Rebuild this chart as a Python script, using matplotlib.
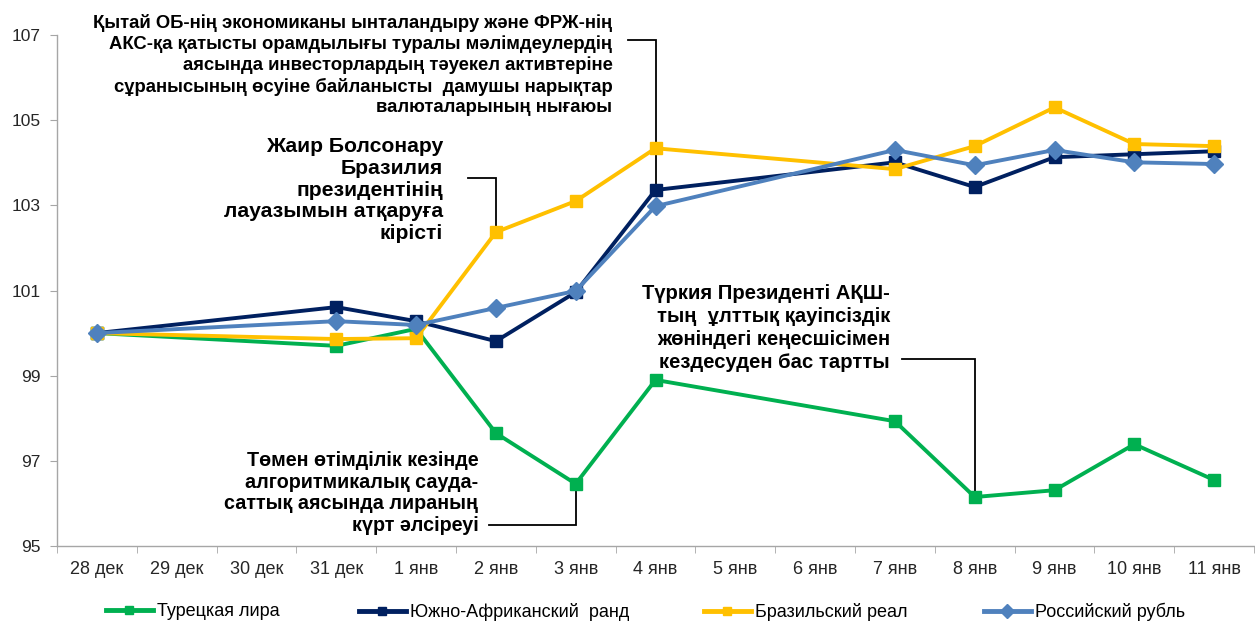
import numpy as np
import matplotlib.pyplot as plt
from matplotlib.lines import Line2D

# Даты (категории оси X)
dates = ["28 дек", "29 дек", "30 дек", "31 дек", "1 янв", "2 янв", "3 янв",
         "4 янв", "5 янв", "6 янв", "7 янв", "8 янв", "9 янв", "10 янв", "11 янв"]
# Индексы дат, для которых есть значения (выходные пропущены)
obs_idx = [0, 3, 4, 5, 6, 7, 10, 11, 12, 13, 14]

try_lira = [100.0, 99.70, 100.10, 97.65, 96.46, 98.90, 97.93, 96.15, 96.31, 97.39, 96.55]
zar_rand = [100.0, 100.61, 100.28, 99.81, 100.96, 103.36, 104.01, 103.43, 104.13, 104.20, 104.27]
brl_real = [100.0, 99.86, 99.88, 102.37, 103.10, 104.34, 103.85, 104.39, 105.30, 104.44, 104.39]
rub_rubl = [100.0, 100.28, 100.19, 100.59, 100.99, 102.98, 104.30, 103.94, 104.30, 104.01, 103.97]

yticks = [95, 97, 99, 101, 103, 105, 107]

C_TRY = "#00B050"
C_ZAR = "#002060"
C_BRL = "#FFC000"
C_RUB = "#4F81BD"
C_AX = "#A6A6A6"

plt.rcParams.update({"font.family": ["Liberation Sans", "DejaVu Sans"]})

fig = plt.figure(figsize=(12.55, 6.3), dpi=100)
ax = fig.add_axes([57 / 1255, 1 - 546 / 630, (1254 - 57) / 1255, (546 - 35) / 630])

x = np.array(obs_idx)
series = [
    (try_lira, C_TRY, "s", 8, "Турецкая лира"),
    (zar_rand, C_ZAR, "s", 8, "Южно-Африканский  ранд"),
    (brl_real, C_BRL, "s", 8, "Бразильский реал"),
    (rub_rubl, C_RUB, "D", 9.5, "Российский рубль"),
]
for vals, col, mk, ms, lab in series:
    ax.plot(x, vals, color=col, lw=2.8, marker=mk, ms=ms, mec=col, mfc=col, label=lab)

ax.set_xlim(-0.5, len(dates) - 0.5)
ax.set_ylim(95, 107)
ax.set_yticks(yticks)
ax.set_yticklabels([str(v) for v in yticks], fontsize=12.5, color="#262626")
ax.set_xticks(range(len(dates)))
ax.set_xticklabels(dates, fontsize=13, color="#262626")
ax.set_xticks(np.arange(-0.5, len(dates), 1.0), minor=True)
ax.tick_params(axis="x", which="major", length=0, pad=11)
ax.tick_params(axis="x", which="minor", length=5, color=C_AX, direction="out")
ax.tick_params(axis="y", length=5, color=C_AX, direction="out", pad=7)
for s in ("top", "right"):
    ax.spines[s].set_visible(False)
for s in ("left", "bottom"):
    ax.spines[s].set_color(C_AX)
    ax.spines[s].set_linewidth(1.0)


def callout(text, tx, ty, hx0, hy, px, py, fs, ls):
    ax.text(tx, ty, text, ha="right", va="center", multialignment="right",
            fontsize=fs, fontweight="bold", color="#000000", linespacing=ls)
    ax.plot([hx0, px, px], [hy, hy, py], color="#000000", lw=1.3, zorder=1,
            solid_joinstyle="miter")


callout("Қытай ОБ-нің экономиканы ынталандыру және ФРЖ-нің\n"
        "АКС-қа қатысты орамдылығы туралы мәлімдеулердің\n"
        "аясында инвесторлардың тәуекел активтеріне\n"
        "сұранысының өсуіне байланысты  дамушы нарықтар\n"
        "валюталарының нығаюы",
        6.46, 106.30, 6.66, 106.88, 7, zar_rand[obs_idx.index(7)], 13.3, 1.25)
callout("Жаир Болсонару\nБразилия\nпрезидентінің\nлауазымын атқаруға\nкірісті",
        4.34, 103.36, 4.65, 103.64, 5, brl_real[obs_idx.index(5)], 15.2, 1.17)
callout("Түркия Президенті АҚШ-\nтың  ұлттық қауіпсіздік\nжөніндегі кеңесшісімен\nкездесуден бас тартты",
        9.94, 100.12, 10.09, 99.40, 11, try_lira[obs_idx.index(11)], 14.6, 1.25)
callout("Төмен өтімділік кезінде\nалгоритмикалық сауда-\nсаттық аясында лираның\nкүрт әлсіреуі",
        4.78, 96.24, 4.91, 95.49, 6, try_lira[obs_idx.index(6)], 14.2, 1.17)

# Легенда: каждая запись отдельно, как в исходной диаграмме
legend_x = [106, 359, 704, 984]
for (vals, col, mk, ms, lab), lx in zip(series, legend_x):
    h = Line2D([0], [0], color=col, lw=3.5, marker=mk, ms=ms - 2.5, mec=col, mfc=col)
    fig.legend([h], [lab], loc="center left", bbox_to_anchor=(lx / 1255, 1 - 612 / 630),
               frameon=False, fontsize=13, handlelength=2.6, handletextpad=0.2,
               borderpad=0, borderaxespad=0)

fig.savefig("out.png", dpi=100)
